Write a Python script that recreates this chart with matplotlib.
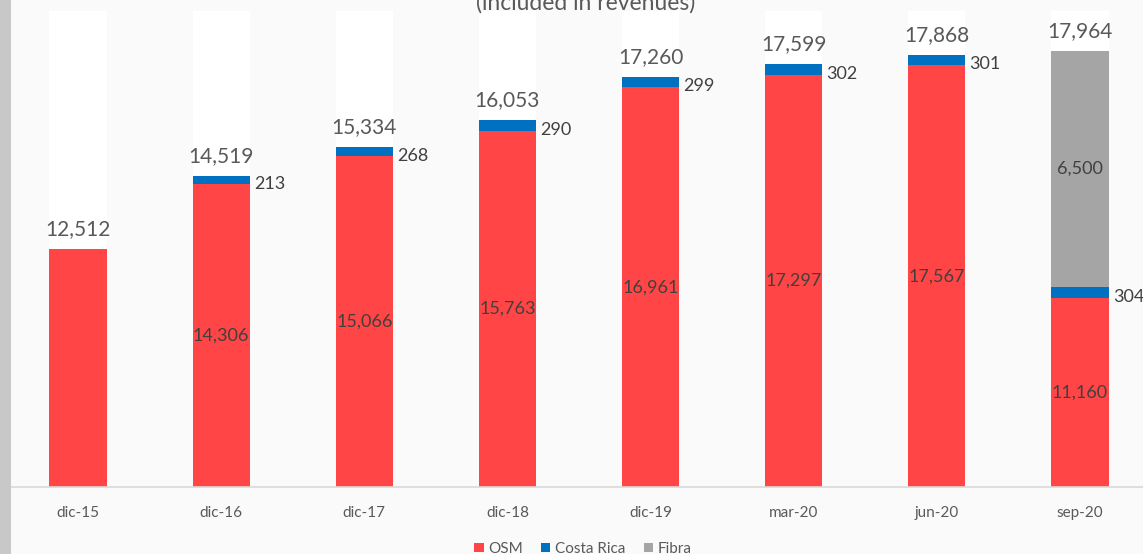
import numpy as np
import matplotlib
matplotlib.use('Agg')
import matplotlib.pyplot as plt
from matplotlib.patches import Rectangle

plt.rcParams['font.family'] = ['Lato', 'DejaVu Sans']

periods = ['dic-15', 'dic-16', 'dic-17', 'dic-18', 'dic-19', 'mar-20', 'jun-20', 'sep-20']
osm = [12512, 14306, 15066, 15763, 16961, 17297, 17567, 11160]
costa_rica = [0, 213, 268, 290, 299, 302, 301, 304]
fibra = [0, 0, 0, 0, 0, 0, 0, 6500]
totals = [12512, 14519, 15334, 16053, 17260, 17599, 17868, 17964]

# value axis does not start at zero in the original
y_floor = 5960
ceiling = 19066

RED = '#FF4545'
BLUE = '#0070C0'
GREY = '#A5A5A5'
TXT = '#595959'
DARK = '#404040'

W, H = 1143, 554
fig = plt.figure(figsize=(W / 100, H / 100), dpi=100, facecolor='#FAFAFA')

# slide border strip on the left
fig.patches.append(Rectangle((0, 0), 10.5 / W, 1, transform=fig.transFigure,
                             facecolor='#C8C8C8', edgecolor='none', zorder=0))

ax = fig.add_axes([11 / W, (H - 487) / H, 1 - 11 / W, 476 / H])
ax.set_facecolor('#FAFAFA')

x = np.arange(len(periods))
bw = 0.4
osm_a = np.array(osm, dtype=float)
cr_a = np.array(costa_rica, dtype=float)
fb_a = np.array(fibra, dtype=float)

ax.bar(x, ceiling - y_floor, bw, bottom=y_floor, color='white', zorder=1)
ax.bar(x, osm_a - y_floor, bw, bottom=y_floor, color=RED, zorder=2)
ax.bar(x, cr_a, bw, bottom=osm_a, color=BLUE, zorder=2)
ax.bar(x, fb_a, bw, bottom=osm_a + cr_a, color=GREY, zorder=2)

ax.set_xlim(-0.5 + 4.5 / 143, 7 + 63 / 143)
ax.set_ylim(y_floor, ceiling)

for i in range(len(periods)):
    stacked = costa_rica[i] or fibra[i]
    if stacked:
        # OSM value in the middle of the visible red part
        ax.text(x[i], (y_floor + osm_a[i]) / 2, f'{osm[i]:,}', ha='center', va='center',
                fontsize=13, color=DARK, zorder=3)
    if costa_rica[i]:
        ax.annotate(f'{costa_rica[i]:,}', (x[i] + bw / 2, osm_a[i] + cr_a[i] / 2),
                    xytext=(3, -3), textcoords='offset points', ha='left', va='center',
                    fontsize=13, color=DARK, zorder=3, annotation_clip=False)
    if fibra[i]:
        ax.text(x[i], osm_a[i] + cr_a[i] + fb_a[i] / 2, f'{fibra[i]:,}', ha='center',
                va='center', fontsize=13, color=DARK, zorder=3)
    ax.annotate(f'{totals[i]:,}', (x[i], totals[i]), xytext=(0, 10),
                textcoords='offset points', ha='center', va='baseline',
                fontsize=15, color=TXT, zorder=3)

for s in ['left', 'right', 'top']:
    ax.spines[s].set_visible(False)
ax.spines['bottom'].set_color('#D9D9D9')
ax.spines['bottom'].set_linewidth(1.2)
ax.set_yticks([])
ax.set_xticks(x)
ax.set_xticklabels(periods, fontsize=11, color=TXT)
ax.tick_params(axis='x', length=0, pad=14)

# title is partly cropped off the top in the original
fig.text(586 / W, 1 - 10 / H, '(included in revenues)', ha='center', va='baseline',
         fontsize=16.5, color=TXT)

handles = [Rectangle((0, 0), 1, 1, facecolor=c) for c in (RED, BLUE, GREY)]
fig.legend(handles, ['OSM', 'Costa Rica', 'Fibra'], loc='center',
           bbox_to_anchor=(583 / W, 1 - 549 / H), ncol=3, frameon=False,
           fontsize=11, handlelength=0.6, handleheight=0.6, handletextpad=0.3,
           columnspacing=1.2, labelcolor=TXT)

fig.savefig('out.png', dpi=100, facecolor=fig.get_facecolor())
